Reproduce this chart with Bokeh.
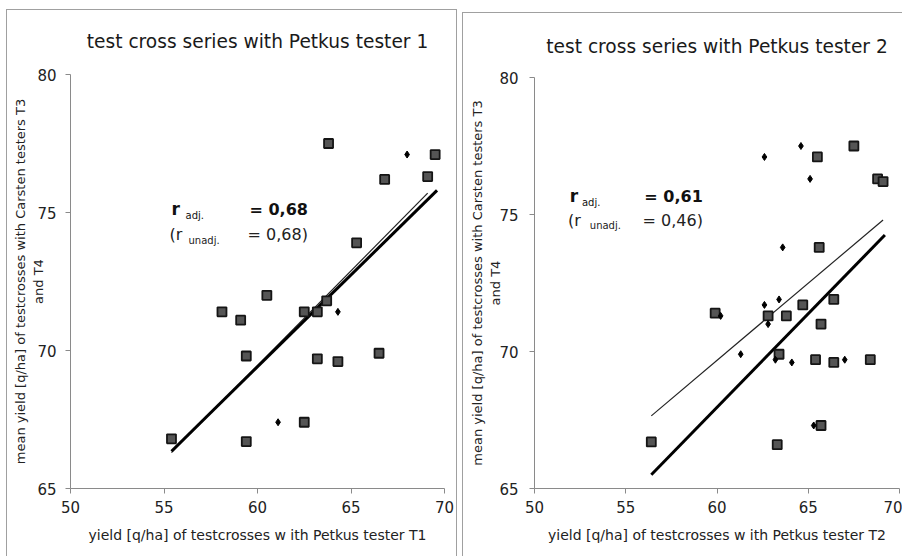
from bokeh.plotting import figure
from bokeh.layouts import row
from bokeh.models import Range1d, FixedTicker, Label
from bokeh.embed import file_html
from bokeh.resources import INLINE

# ---------------- data ----------------
x_ticks = [50, 55, 60, 65, 70]
y_ticks = [65, 70, 75, 80]

titles = ["test cross series with Petkus tester 1", "test cross series with Petkus tester 2"]
x_labels = ["yield [q/ha] of testcrosses w ith Petkus tester T1",
            "yield [q/ha] of testcrosses w ith Petkus tester T2"]
y_label = "mean yield [q/ha] of testcrosses with Carsten testers T3\nand T4"

# panel 1 (tester 1)
left_sq_x = [63.8, 69.5, 66.8, 69.1, 65.3, 60.5, 58.1, 59.1, 62.5, 63.2, 63.7, 59.4, 63.2, 64.3, 66.5, 62.5, 55.4, 59.4]
left_sq_y = [77.5, 77.1, 76.2, 76.3, 73.9, 72.0, 71.4, 71.1, 71.4, 71.4, 71.8, 69.8, 69.7, 69.6, 69.9, 67.4, 66.8, 66.7]
left_dm_x = [68.0, 64.3, 61.1]
left_dm_y = [77.1, 71.4, 67.4]
left_thick_x = [55.4, 69.6]
left_thick_y = [66.35, 75.8]
left_thin_x = [55.4, 69.1]
left_thin_y = [66.3, 75.7]
left_r_adj = "= 0,68"
left_r_unadj = "= 0,68)"

# panel 2 (tester 2)
right_sq_x = [65.5, 67.5, 68.8, 69.1, 65.6, 59.9, 62.8, 63.8, 64.7, 66.4, 65.7, 63.4, 65.4, 66.4, 68.4, 65.7, 56.4, 63.3]
right_sq_y = [77.1, 77.5, 76.3, 76.2, 73.8, 71.4, 71.3, 71.3, 71.7, 71.9, 71.0, 69.9, 69.7, 69.6, 69.7, 67.3, 66.7, 66.6]
right_dm_x = [62.6, 64.6, 65.1, 63.6, 60.2, 62.6, 63.4, 62.8, 61.3, 63.2, 64.1, 67.0, 65.3]
right_dm_y = [77.1, 77.5, 76.3, 73.8, 71.3, 71.7, 71.9, 71.0, 69.9, 69.7, 69.6, 69.7, 67.3]
right_thick_x = [56.4, 69.2]
right_thick_y = [65.5, 74.25]
right_thin_x = [56.4, 69.1]
right_thin_y = [67.65, 74.8]
right_r_adj = "= 0,61"
right_r_unadj = "= 0,46)"

FONT = "DejaVu Sans"
BORDER = "1px solid #a0a0a0"


def make_panel(title, xlab, sq_x, sq_y, dm_x, dm_y, thick_x, thick_y, thin_x, thin_y,
               r_adj, r_unadj, width, height, mb, ylab_standoff, ylab_tick_standoff, txt_pos,
               title_standoff):
    p = figure(width=width, height=height, x_range=Range1d(50, 70), y_range=Range1d(65, 80),
               output_backend="svg", toolbar_location=None,
               min_border_left=mb[0], min_border_right=mb[1], min_border_top=mb[2], min_border_bottom=mb[3])
    p.outline_line_color = None
    p.grid.visible = False
    p.background_fill_color = "white"
    p.border_fill_color = "white"

    p.title.text = title
    p.title.align = "center"
    p.title.vertical_align = "top"
    p.title.text_font = FONT
    p.title.text_font_size = "18.6px"
    p.title.text_font_style = "normal"
    p.title.text_color = "#1a1a1a"
    p.title.standoff = title_standoff

    for ax in (p.xaxis, p.yaxis):
        ax.axis_line_color = "#8a8a8a"
        ax.major_tick_line_color = "#8a8a8a"
        ax.major_tick_out = 5
        ax.major_tick_in = 0
        ax.minor_tick_line_color = None
        ax.major_label_text_font = FONT
        ax.major_label_text_font_size = "15px"
        ax.major_label_text_color = "#222222"
        ax.axis_label_text_font = FONT
        ax.axis_label_text_font_style = "normal"
        ax.axis_label_text_color = "#222222"

    p.xaxis.ticker = FixedTicker(ticks=x_ticks)
    p.yaxis.ticker = FixedTicker(ticks=y_ticks)
    p.xaxis.major_label_standoff = 7
    p.yaxis.major_label_standoff = ylab_tick_standoff
    p.xaxis.axis_label = xlab
    p.xaxis.axis_label_text_font_size = "14px"
    p.xaxis.axis_label_standoff = 11
    p.yaxis.axis_label = y_label
    p.yaxis.axis_label_text_font_size = "13px"
    p.yaxis.axis_label_standoff = ylab_standoff

    # regression lines
    p.line(thin_x, thin_y, line_color="#222222", line_width=1.2)
    p.line(thick_x, thick_y, line_color="black", line_width=3)

    # points
    p.scatter(sq_x, sq_y, marker="square", size=9, fill_color="#555555",
              line_color="#151515", line_width=1.8)
    p.scatter(dm_x, dm_y, marker="diamond", size=7, fill_color="black", line_color="black")

    # correlation annotations
    (xr, xsub1, xsub2, xeq, y1, y2) = txt_pos
    p.add_layout(Label(x=xr, y=y1, text="r", text_font=FONT, text_font_style="bold",
                       text_font_size="17px", text_color="#111111"))
    p.add_layout(Label(x=xsub1, y=y1 - 0.07, text="adj.", text_font=FONT,
                       text_font_size="10px", text_color="#111111"))
    p.add_layout(Label(x=xeq, y=y1, text=r_adj, text_font=FONT, text_font_style="bold",
                       text_font_size="16px", text_color="#111111"))
    p.add_layout(Label(x=xr - 0.1, y=y2, text="(r", text_font=FONT,
                       text_font_size="16px", text_color="#222222"))
    p.add_layout(Label(x=xsub2, y=y2 - 0.07, text="unadj.", text_font=FONT,
                       text_font_size="10px", text_color="#222222"))
    p.add_layout(Label(x=xeq - 0.1, y=y2, text=r_unadj, text_font=FONT,
                       text_font_size="16px", text_color="#222222"))
    return p


p1 = make_panel(titles[0], x_labels[0], left_sq_x, left_sq_y, left_dm_x, left_dm_y,
                left_thick_x, left_thick_y, left_thin_x, left_thin_y, left_r_adj, left_r_unadj,
                width=451, height=547, mb=(63, 14, 64, 68), ylab_standoff=-12, ylab_tick_standoff=9,
                txt_pos=(55.4, 56.15, 56.31, 59.57, 74.76, 73.86), title_standoff=41)
p1.margin = (9, 0, 0, 6)
p1.styles = {"border-left": BORDER, "border-top": BORDER, "border-right": BORDER}

p2 = make_panel(titles[1], x_labels[1], right_sq_x, right_sq_y, right_dm_x, right_dm_y,
                right_thick_x, right_thick_y, right_thin_x, right_thin_y, right_r_adj, right_r_unadj,
                width=440, height=544, mb=(71, 4, 60, 69), ylab_standoff=-7, ylab_tick_standoff=11,
                txt_pos=(51.93, 52.6, 53.03, 56.02, 75.32, 74.45), title_standoff=37)
p2.margin = (12, 0, 0, 5)
p2.styles = {"border-left": BORDER, "border-top": BORDER}

layout = row(p1, p2)
layout.margin = 0

open("out.html", "w").write(file_html(layout, INLINE))
